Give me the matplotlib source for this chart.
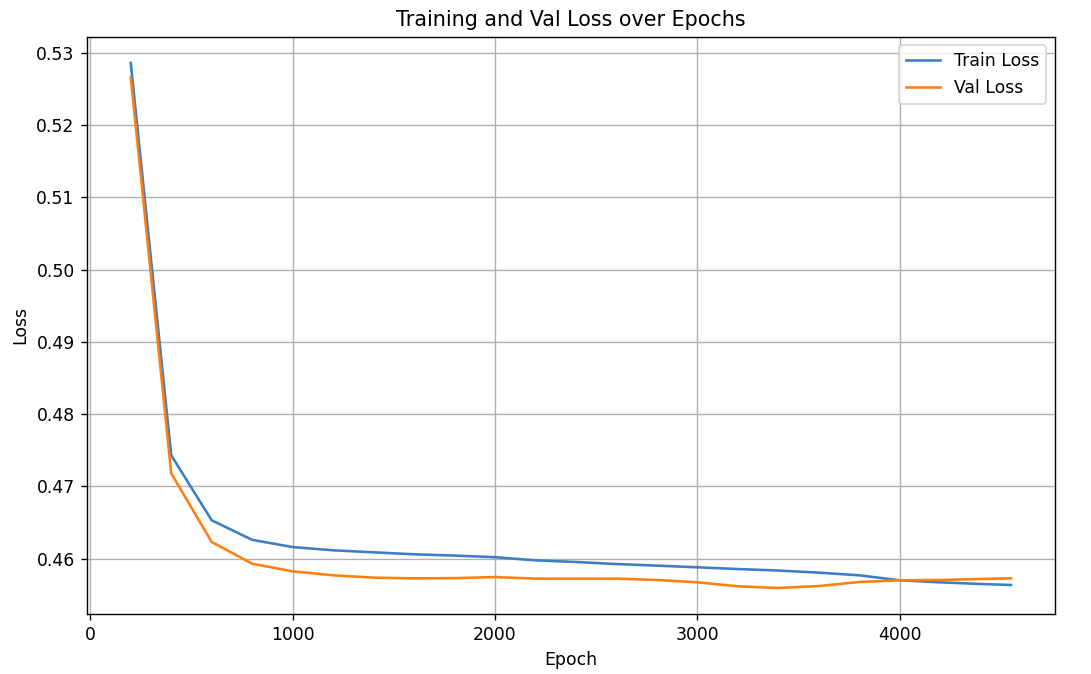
import numpy as np
import matplotlib.pyplot as plt

# epochs logged every 200, plus the final one
epochs = [200, 400, 600, 800, 1000, 1200, 1400, 1600, 1800, 2000, 2200, 2400,
          2600, 2800, 3000, 3200, 3400, 3600, 3800, 4000, 4200, 4400, 4550]

train_loss = [0.5286, 0.4743, 0.4653, 0.4626, 0.4616, 0.46115, 0.46087, 0.4606,
              0.46042, 0.4602, 0.45976, 0.45953, 0.45925, 0.45903, 0.4588,
              0.45856, 0.45835, 0.45806, 0.45769, 0.457, 0.45672, 0.45649, 0.45635]

val_loss = [0.5266, 0.4718, 0.4623, 0.4593, 0.45824, 0.45769, 0.45737, 0.45727,
            0.4573, 0.45745, 0.45723, 0.45723, 0.45723, 0.45704, 0.45672,
            0.45617, 0.45593, 0.45621, 0.45676, 0.457, 0.45704, 0.45718, 0.45727]

DPI = 124
fig = plt.figure(figsize=(1091 / DPI, 674 / DPI), dpi=DPI)
ax = fig.add_axes([0.0795, 0.0886, 0.8875, 0.857])

ax.plot(epochs, train_loss, color='#3b7ec4', label='Train Loss')
ax.plot(epochs, val_loss, color='#ff7f0e', label='Val Loss')

ax.set_xlabel('Epoch')
ax.set_ylabel('Loss')
ax.set_title('Training and Val Loss over Epochs')
ax.grid(True)
ax.legend(loc='upper right')

fig.savefig('out.png', dpi=DPI)
